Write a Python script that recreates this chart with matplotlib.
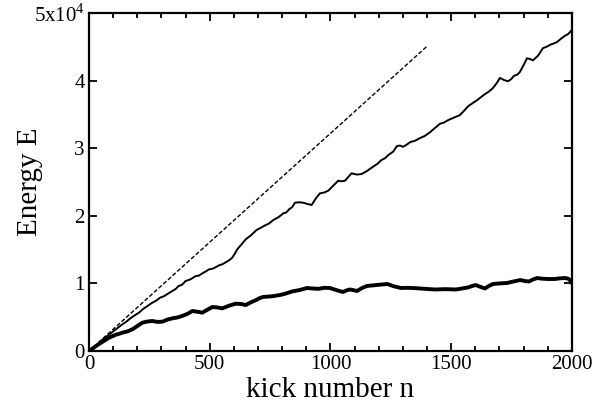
import numpy as np
import matplotlib
matplotlib.use('Agg')
import matplotlib.pyplot as plt
from matplotlib.ticker import MultipleLocator

plt.rcParams['font.family'] = ['Liberation Serif', 'DejaVu Serif']
plt.rcParams['mathtext.fontset'] = 'custom'
plt.rcParams['mathtext.rm'] = 'Liberation Serif'

# dashed reference line
n_lin = [0, 1400]
E_lin = [0, 45080]

# thin curve
n_mid = [0, 20, 35, 50, 69, 85, 100, 120, 138, 155, 170, 190, 207, 225, 240, 260,
         276, 295, 310, 330, 345, 360, 370, 385, 400, 420, 442, 455, 470, 485,
         497, 510, 525, 540, 552, 565, 575, 585, 593, 604, 614, 630, 649, 670,
         694, 710, 730, 745, 763, 785, 804, 817, 830, 842, 853, 870, 887, 905,
         922, 940, 956, 975, 991, 1010, 1032, 1045, 1060, 1075, 1087, 1110, 1129,
         1150, 1177, 1195, 1211, 1225, 1240, 1260, 1275, 1288, 1300, 1315, 1330,
         1350, 1371, 1390, 1410, 1430, 1453, 1470, 1490, 1510, 1536, 1555, 1570,
         1590, 1607, 1625, 1640, 1657, 1673, 1690, 1702, 1718, 1735, 1748, 1760,
         1775, 1785, 1800, 1814, 1826, 1839, 1860, 1880, 1895, 1910, 1925, 1938,
         1955, 1970, 1985, 2000]
E_mid = [0, 550, 1000, 1500, 2050, 2450, 2900, 3450, 3950, 4350, 4800, 5300,
         5670, 6250, 6600, 7100, 7400, 7900, 8100, 8550, 8870, 9200, 9600, 9800,
         10350, 10600, 11090, 11150, 11500, 11800, 12080, 12150, 12400, 12700,
         12820, 13100, 13300, 13550, 13800, 14400, 15040, 15700, 16520, 17100,
         17900, 18200, 18600, 18850, 19370, 19800, 20350, 20500, 21000, 21300,
         21940, 22000, 21940, 21750, 21600, 22600, 23320, 23450, 23720, 24400,
         25190, 25100, 25190, 25800, 26280, 26100, 26180, 26600, 27270, 27700,
         28250, 28500, 29000, 29500, 30300, 30400, 30200, 30500, 30900, 31100,
         31500, 31800, 32300, 32900, 33600, 33800, 34200, 34500, 34900, 35600,
         36200, 36700, 37100, 37600, 38000, 38400, 38900, 39700, 40400, 40100,
         39900, 40200, 40700, 40900, 41300, 42300, 43300, 43200, 43000, 43700,
         44800, 45000, 45300, 45500, 45700, 46200, 46600, 46900, 47500]

# thick curve
n_low = [0, 20, 40, 60, 83, 95, 110, 125, 138, 160, 179, 200, 221, 240, 262,
         285, 304, 325, 345, 365, 386, 408, 428, 450, 469, 490, 511, 530, 552,
         580, 607, 630, 649, 670, 690, 705, 720, 740, 760, 775, 791, 815, 840,
         870, 903, 925, 950, 975, 998, 1025, 1052, 1065, 1081, 1095, 1110, 1130,
         1151, 1175, 1200, 1218, 1236, 1260, 1292, 1320, 1350, 1390, 1433, 1475,
         1520, 1545, 1570, 1585, 1602, 1620, 1640, 1655, 1673, 1700, 1731, 1760,
         1786, 1805, 1822, 1840, 1857, 1875, 1900, 1930, 1950, 1971, 1985, 1993,
         2000]
E_low = [0, 500, 1000, 1450, 1970, 2150, 2400, 2550, 2710, 2900, 3200, 3700,
         4190, 4350, 4440, 4300, 4340, 4650, 4830, 4950, 5180, 5500, 5920, 5800,
         5670, 6100, 6510, 6450, 6310, 6700, 7000, 6950, 6800, 7200, 7500, 7800,
         7990, 8050, 8100, 8200, 8280, 8500, 8800, 9000, 9320, 9250, 9200, 9350,
         9320, 9000, 8730, 8950, 9100, 9000, 8880, 9300, 9620, 9700, 9800, 9850,
         9910, 9600, 9320, 9350, 9300, 9200, 9100, 9150, 9100, 9250, 9400, 9600,
         9760, 9500, 9250, 9600, 9910, 10000, 10060, 10300, 10500, 10350, 10280,
         10600, 10800, 10700, 10650, 10650, 10750, 10800, 10700, 10450, 10060]

yticks = [0, 10000, 20000, 30000, 40000, 50000]
ytick_labels = ['0', '1', '2', '3', '4', '5x10$^{4}$']
xticks = [0, 500, 1000, 1500, 2000]

fig = plt.figure(figsize=(6.11, 4.09), dpi=100)
ax = fig.add_axes([0.1457, 0.1418, 0.7903, 0.8264])

ax.plot(n_lin, E_lin, color='black', lw=1.0, ls=(0, (3, 1.5)))
ax.plot(n_mid, E_mid, color='black', lw=1.4)
ax.plot(n_low, E_low, color='black', lw=2.8)

ax.set_xlim(0, 2000)
ax.set_ylim(0, 50000)
ax.set_xticks(xticks)
ax.set_yticks(yticks)
ax.set_yticklabels(ytick_labels)
ax.xaxis.set_minor_locator(MultipleLocator(100))

ax.tick_params(which='both', direction='in', top=True, right=True,
               labelsize=15, width=1.3, pad=3)
ax.tick_params(which='major', length=6)
ax.tick_params(which='minor', length=3.5)
for sp in ax.spines.values():
    sp.set_linewidth(1.6)

ax.set_xlabel('kick number n', fontsize=21, labelpad=2)
ax.set_ylabel('Energy E', fontsize=21)
ax.yaxis.set_label_coords(-0.095, 0.5)

fig.savefig('out.png', dpi=100)
